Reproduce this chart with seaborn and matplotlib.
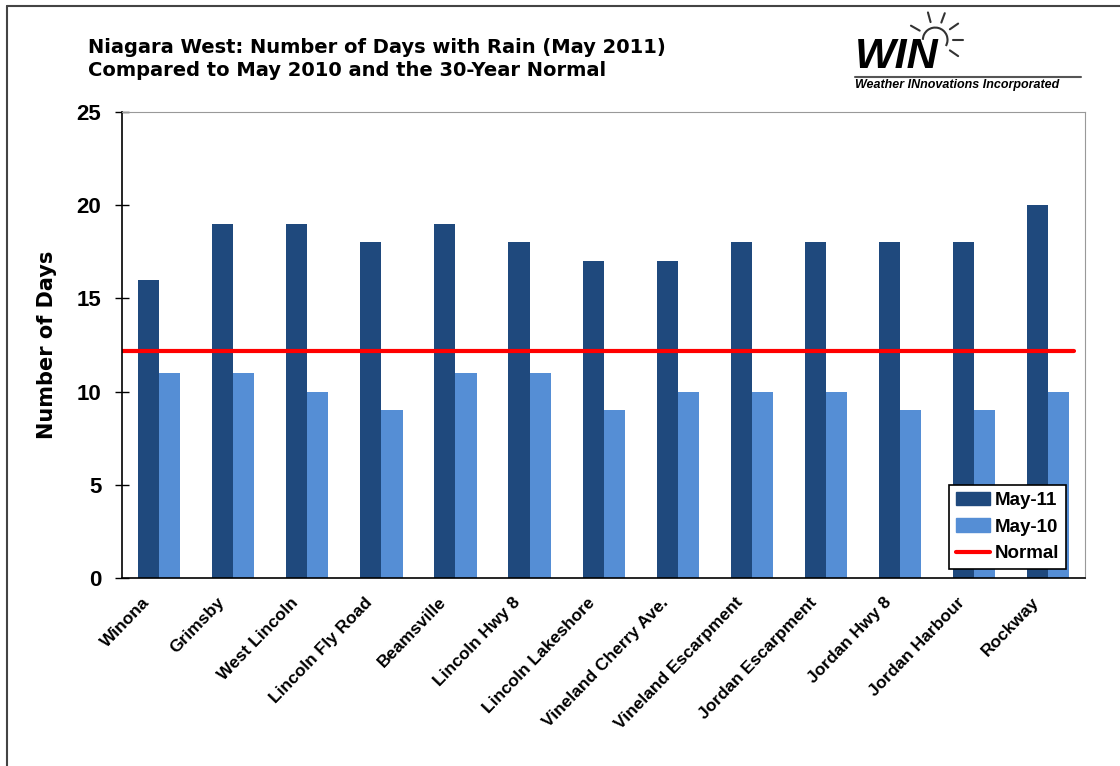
import numpy as np
import pandas as pd
import seaborn as sns
import matplotlib.pyplot as plt
import matplotlib.transforms as mtransforms
from matplotlib.lines import Line2D
from matplotlib.patches import Patch, Arc

stations = ['Winona', 'Grimsby', 'West Lincoln', 'Lincoln Fly Road', 'Beamsville',
            'Lincoln Hwy 8', 'Lincoln Lakeshore', 'Vineland Cherry Ave.',
            'Vineland Escarpment', 'Jordan Escarpment', 'Jordan Hwy 8',
            'Jordan Harbour', 'Rockway']
may11 = [16, 19, 19, 18, 19, 18, 17, 17, 18, 18, 18, 18, 20]
may10 = [11, 11, 10, 9, 11, 11, 9, 10, 10, 10, 9, 9, 10]
normal = 12.2
series = ['May-11', 'May-10']
colors = ['#1f497d', '#558ed5']

sns.set_style('white')
plt.rcParams['font.family'] = ['Liberation Sans', 'DejaVu Sans']
plt.rcParams['text.color'] = 'black'
plt.rcParams['axes.labelcolor'] = 'black'
plt.rcParams['xtick.color'] = 'black'
plt.rcParams['ytick.color'] = 'black'

df = pd.DataFrame({'station': stations * 2,
                   'days': may11 + may10,
                   'year': [series[0]] * len(stations) + [series[1]] * len(stations)})

fig = plt.figure(figsize=(11.2, 7.66), dpi=100)
ax = fig.add_axes([0.109, 0.2454, 0.86, 0.6084])
sns.barplot(data=df, x='station', y='days', hue='year', hue_order=series,
            palette=colors, width=0.57, saturation=1, ax=ax, legend=False,
            edgecolor='none')
ax.axhline(normal, xmin=0.0, xmax=0.988, color='#ff0000', lw=3)

ax.set_ylim(0, 25)
ax.set_xlim(-0.5, len(stations) - 0.5)
ax.set_yticks(range(0, 26, 5))
ax.set_yticklabels([str(v) for v in range(0, 26, 5)], fontsize=16, fontweight='bold')
ax.set_xticks(range(len(stations)))
ax.set_xticklabels(stations, rotation=46, ha='right', rotation_mode='anchor',
                   fontsize=12.5, fontweight='bold')
ax.set_xticks(np.arange(-0.5, len(stations)), minor=True)
ax.tick_params(axis='x', which='major', length=0, pad=12)
ax.tick_params(axis='x', which='minor', length=9, direction='inout', width=1)
ax.tick_params(axis='y', length=10, direction='inout', width=1, left=True, pad=10)
shift = mtransforms.ScaledTranslation(-17 / 100, 0, fig.dpi_scale_trans)
for lab in ax.get_xticklabels():
    lab.set_transform(lab.get_transform() + shift)
ax.set_xlabel('')
ax.set_ylabel('Number of Days', fontsize=15, fontweight='bold', labelpad=14,
              family='DejaVu Sans')
for s in ['top', 'right']:
    ax.spines[s].set_color('#999999')
for s in ['left', 'bottom']:
    ax.spines[s].set_color('black')
    ax.spines[s].set_linewidth(1.2)

handles = [Patch(color=colors[0], label=series[0]),
           Patch(color=colors[1], label=series[1]),
           Line2D([0], [0], color='#ff0000', lw=3, label='Normal')]
leg = ax.legend(handles=handles, loc='lower right', bbox_to_anchor=(0.99, 0.0),
                fancybox=False, framealpha=1, edgecolor='black',
                prop={'size': 13.5, 'weight': 'bold'}, borderpad=0.35,
                handlelength=1.8, handletextpad=0.3, labelspacing=0.5)
leg.get_frame().set_linewidth(1.2)

fig.text(0.079, 0.9225, 'Niagara West: Number of Days with Rain (May 2011)\nCompared to May 2010 and the 30-Year Normal',
         fontsize=14, fontweight='bold', va='center', linespacing=1.25,
         family='DejaVu Sans')

# logo
fig.text(0.763, 0.9256, 'WIN', fontsize=31, fontweight='bold', style='italic', va='center')
fig.add_artist(Line2D([0.763, 0.965], [0.9, 0.9], color='#555555', lw=1.5))
fig.text(0.763, 0.889, 'Weather INnovations Incorporated', fontsize=9,
         fontweight='bold', style='italic', va='center')
sun_c = (0.835, 0.948)
fig.add_artist(Arc(sun_c, 0.022, 0.032, theta1=-40, theta2=180, color='#333333',
                   lw=1.5, transform=fig.transFigure))
for ang in np.deg2rad([-35, 0, 35, 70, 105, 150]):
    fig.add_artist(Line2D([sun_c[0] + 0.016 * np.cos(ang), sun_c[0] + 0.025 * np.cos(ang)],
                          [sun_c[1] + 0.024 * np.sin(ang), sun_c[1] + 0.037 * np.sin(ang)],
                          color='#333333', lw=1.5))

# outer frame
fig.add_artist(Line2D([0.006, 0.006], [0, 0.992], color='#444444', lw=1.5))
fig.add_artist(Line2D([0.006, 1.0], [0.992, 0.992], color='#444444', lw=1.5))

fig.savefig('out.png', dpi=100)
